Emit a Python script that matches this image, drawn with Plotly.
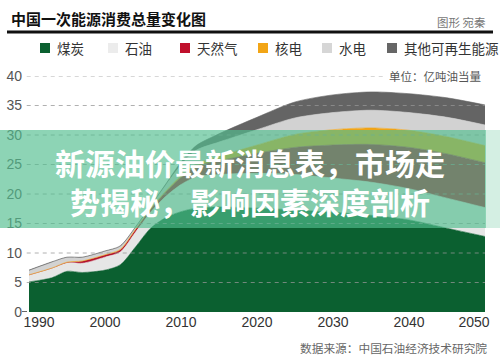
import plotly.graph_objects as go

# ---------------- data (亿吨油当量) ----------------
years = [1990, 1993, 1995, 1997, 2000, 2002, 2004, 2006, 2008, 2010, 2012,
         2015, 2020, 2025, 2030, 2035, 2040, 2045, 2050]
coal = [5.1, 5.8, 6.9, 6.7, 7.1, 8.0, 11.0, 14.2, 16.0, 17.0, 17.6,
        17.8, 17.6, 17.3, 16.9, 16.4, 15.6, 14.2, 12.8]
oil = [1.2, 1.65, 1.5, 1.55, 2.2, 2.15, 2.5, 2.7, 3.6, 4.6, 5.3,
       5.5, 5.9, 6.0, 5.8, 5.6, 5.3, 5.1, 4.9]
gas = [0, 0, 0, 0.35, 0.35, 0.35, 0.4, 0.5, 0.7, 1.2, 1.8,
       2.3, 3.4, 4.6, 5.6, 6.4, 7.0, 7.5, 7.6]
nuclear = [0, 0, 0.05, 0.05, 0.05, 0.1, 0.1, 0.15, 0.2, 0.3, 0.4,
           0.8, 1.4, 2.2, 2.6, 2.8, 2.9, 2.9, 2.9]
hydro = [0.7, 0.95, 0.75, 0.55, 0.55, 0.5, 0.3, 0.35, 1.0, 1.8, 2.3,
         2.4, 2.6, 2.8, 2.9, 3.0, 3.0, 3.3, 3.5]
others = [0.1, 0.1, 0.1, 0.1, 0.1, 0.1, 0.1, 0.1, 0.2, 0.5, 0.8,
          1.4, 2.1, 2.7, 3.0, 3.1, 3.2, 3.3, 3.4]

series_names = ["煤炭", "石油", "天然气", "核电", "水电", "其他可再生能源"]
series_colors = ["#0b6030", "#e6e6e6", "#b3122e", "#f0a418", "#d2d2d2", "#646464"]
legend_colors = ["#0b6030", "#ececec", "#c0102c", "#f2a516", "#d6d6d6", "#666666"]
x_ticks_mid = [2000, 2010, 2020, 2030, 2040]
x_tick_first = [1990]
x_tick_last = [2050]
y_ticks = [0, 5, 10, 15, 20, 25, 30, 35, 40]

title = "中国一次能源消费总量变化图"
credit = "图形 宛秦"
unit = "单位：亿吨油当量"
source = "数据来源：中国石油经济技术研究院"
headline = "新源油价最新消息表，市场走<br>势揭秘，影响因素深度剖析"

# ---------------- layout helpers ----------------
W, H = 500, 360
L, R, T, B = 29, 15, 76, 48
PW, PH = W - L - R, H - T - B


def px(x):
    return (x - L) / PW


def py(y):
    return (H - B - y) / PH


CJK = "Noto Sans CJK SC, Noto Sans, sans-serif"
NUM = "Liberation Sans, Arial, sans-serif"

fig = go.Figure()
for name, vals, col in zip(series_names, [coal, oil, gas, nuclear, hydro, others], series_colors):
    fig.add_trace(go.Scatter(
        x=years, y=vals, name=name, stackgroup="one", mode="lines",
        line=dict(width=0.6, color=col, shape="spline", smoothing=0.8),
        fillcolor=col, showlegend=False, hoverinfo="x+y+name",
    ))

# empty helper traces so the two overlaid label axes (first / last year) are drawn
for ax in ["x2", "x3"]:
    fig.add_trace(go.Scatter(x=[], y=[], xaxis=ax, yaxis="y", mode="lines",
                             showlegend=False, hoverinfo="skip"))

shapes = []
annotations = []

# dashed gridlines drawn over the areas
for v in y_ticks[1:]:
    shapes.append(dict(type="line", xref="paper", yref="y", x0=-0.005, x1=1, y0=v, y1=v,
                       line=dict(color="rgba(150,150,150,0.75)", width=1, dash="4px,4px"),
                       layer="above"))

# white box behind unit label
shapes.append(dict(type="rect", xref="paper", yref="paper",
                   x0=px(384), x1=px(490), y0=py(82), y1=py(68),
                   fillcolor="white", line=dict(width=0), layer="above"))

# translucent green banner
shapes.append(dict(type="rect", xref="paper", yref="paper",
                   x0=px(0), x1=px(486), y0=py(228), y1=py(130),
                   fillcolor="rgba(82,190,142,0.66)", line=dict(width=0), layer="above"))
shapes.append(dict(type="rect", xref="paper", yref="paper",
                   x0=px(486), x1=px(500), y0=py(228), y1=py(130),
                   fillcolor="rgba(82,190,142,0.25)", line=dict(width=0), layer="above"))

# black rule under title
shapes.append(dict(type="line", xref="paper", yref="paper",
                   x0=px(7), x1=px(493), y0=py(32), y1=py(32),
                   line=dict(color="#111", width=3)))

# small tick at zero
shapes.append(dict(type="line", xref="paper", yref="y", x0=px(22), x1=px(27), y0=0, y1=0,
                   line=dict(color="#333", width=1.5)))

# legend
legend_sq_x = [40, 108, 180, 258, 322, 387]
for name, col, sx in zip(series_names, legend_colors, legend_sq_x):
    shapes.append(dict(type="rect", xref="paper", yref="paper",
                       x0=px(sx), x1=px(sx + 10), y0=py(53), y1=py(43),
                       fillcolor=col, line=dict(width=0)))
    annotations.append(dict(text=name, xref="paper", yref="paper", x=px(sx + 15), y=py(48),
                            xanchor="left", yanchor="middle", showarrow=False,
                            font=dict(family=CJK, size=13.5, color="#333")))

annotations += [
    dict(text="<b>" + title + "</b>", xref="paper", yref="paper", x=px(9), y=py(18),
         xanchor="left", yanchor="middle", showarrow=False,
         font=dict(family=CJK, size=15, color="#111")),
    dict(text=credit, xref="paper", yref="paper", x=px(488), y=py(22),
         xanchor="right", yanchor="middle", showarrow=False,
         font=dict(family=CJK, size=11.5, color="#777")),
    dict(text=unit, xref="paper", yref="paper", x=px(483), y=py(76),
         xanchor="right", yanchor="middle", showarrow=False,
         font=dict(family=CJK, size=11.5, color="#555")),
    dict(text=source, xref="paper", yref="paper", x=px(489), y=py(347),
         xanchor="right", yanchor="middle", showarrow=False,
         font=dict(family=CJK, size=11.7, color="#666")),
    dict(text="<b>" + headline + "</b>", xref="paper", yref="paper", x=px(250), y=py(181.5),
         xanchor="center", yanchor="middle", showarrow=False, align="center",
         font=dict(family=CJK, size=30, color="white")),
]

xcommon = dict(range=[1990, 2050], showgrid=False, zeroline=False, automargin=False,
               ticklabeloverflow="allow", showline=False, ticks="",
               tickfont=dict(family=NUM, size=14, color="#333"), fixedrange=True)

fig.update_layout(
    width=W, height=H,
    margin=dict(l=L, r=R, t=T, b=B, pad=0, autoexpand=False),
    paper_bgcolor="white", plot_bgcolor="white",
    shapes=shapes, annotations=annotations,
    xaxis=dict(tickvals=x_ticks_mid, **xcommon),
    xaxis2=dict(tickvals=x_tick_first, overlaying="x", anchor="y", side="bottom",
                ticklabelshift=10, **xcommon),
    xaxis3=dict(tickvals=x_tick_last, overlaying="x", anchor="y", side="bottom",
                ticklabelshift=-11, **xcommon),
    yaxis=dict(range=[0, 40], tickvals=y_ticks, showgrid=False, zeroline=False,
               automargin=False, ticklabeloverflow="allow",
               showline=False, ticks="", tickfont=dict(family=NUM, size=14, color="#555"),
               ticklabelstandoff=6, fixedrange=True),
)

fig.write_html("out.html", config={"displayModeBar": False},
               post_script="document.body.style.margin='0';document.body.style.padding='0';")
